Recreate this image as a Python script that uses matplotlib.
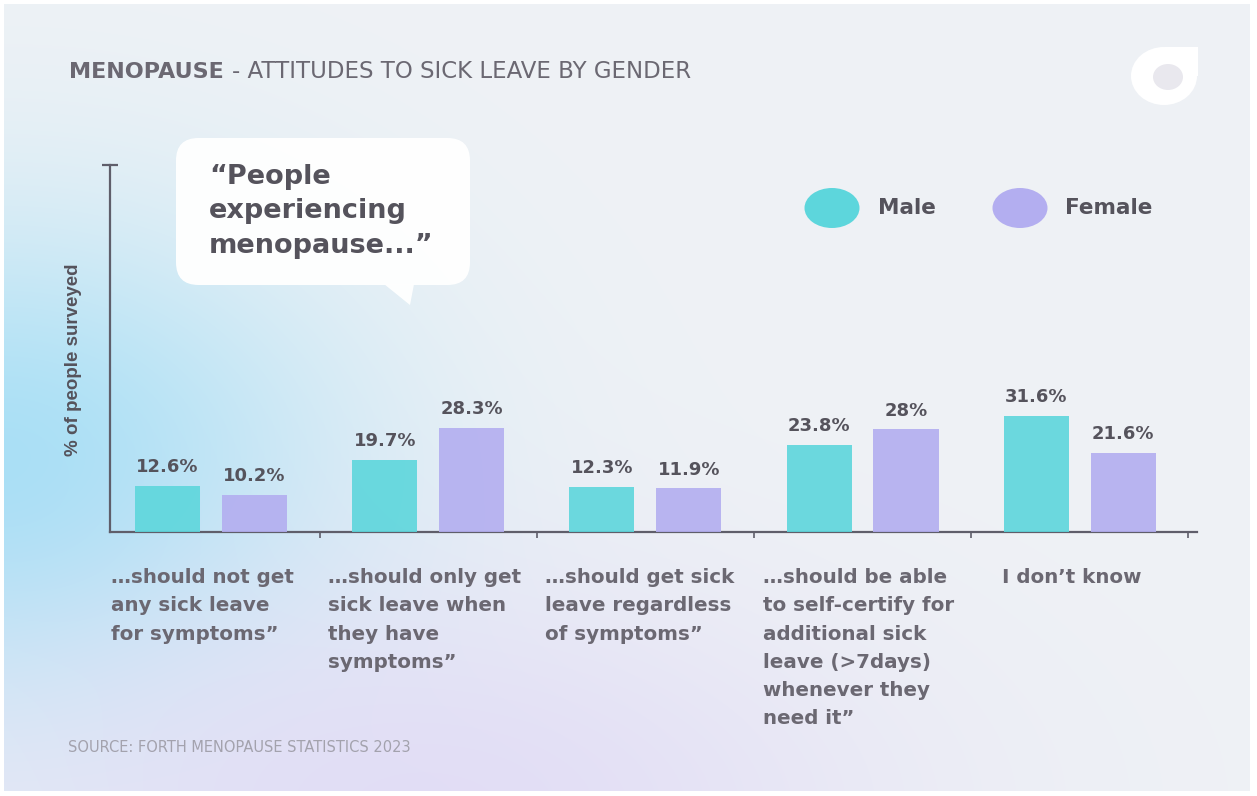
import numpy as np
import matplotlib
matplotlib.use("Agg")
import matplotlib.pyplot as plt
from matplotlib.patches import FancyBboxPatch, Polygon, Ellipse
from matplotlib import transforms

# ---- data ----
categories = [
    "\u2026should not get\nany sick leave\nfor symptoms\u201d",
    "\u2026should only get\nsick leave when\nthey have\nsymptoms\u201d",
    "\u2026should get sick\nleave regardless\nof symptoms\u201d",
    "\u2026should be able\nto self-certify for\nadditional sick\nleave (>7days)\nwhenever they\nneed it\u201d",
    "I don\u2019t know",
]
series_names = ["Male", "Female"]
male = [12.6, 19.7, 12.3, 23.8, 31.6]
female = [10.2, 28.3, 11.9, 28.0, 21.6]

title_bold = "MENOPAUSE"
title_rest = "- ATTITUDES TO SICK LEAVE BY GENDER"
quote = "\u201cPeople\nexperiencing\nmenopause...\u201d"
y_label = "% of people surveyed"
source = "SOURCE: FORTH MENOPAUSE STATISTICS 2023"

# ---- styling ----
W, H = 1257, 796
MALE_C = "#5dd6dc"
FEMALE_C = "#b3aef0"
DARK = "#55535c"
MID = "#6b6872"
AXIS_C = "#5f5e6a"


def fx(px):
    return px / W


def fy(py):
    return 1 - py / H


fig = plt.figure(figsize=(W / 100, H / 100), dpi=100)
fig.patch.set_facecolor("white")

# soft gradient backdrop
yy, xx = np.mgrid[0:H, 0:W].astype(float)
base = np.array([239, 242, 246], float) / 255
cyan = np.array([162, 222, 245], float) / 255
lav = np.array([224, 218, 246], float) / 255
w_c = 0.92 * np.exp(-((xx - 0) / 340) ** 2 - ((yy - 470) / 250) ** 2)
w_l = 0.85 * np.exp(-((xx - 430) / 460) ** 2 - ((yy - 810) / 230) ** 2)
img = base[None, None, :] * np.ones((H, W, 1))
img = img * (1 - w_c[..., None]) + cyan * w_c[..., None]
img = img * (1 - w_l[..., None]) + lav * w_l[..., None]
img[:4, :] = 1
img[-5:, :] = 1
img[:, :4] = 1
img[:, -7:] = 1
bg = fig.add_axes([0, 0, 1, 1], zorder=0)
bg.imshow(img, aspect="auto", extent=(0, W, H, 0), interpolation="bilinear")
bg.set_xlim(0, W)
bg.set_ylim(H, 0)
bg.axis("off")

# ---- main bar axes ----
ax_left, ax_right, ax_base, ax_top = 110, 1197, 532, 165
ax = fig.add_axes([fx(ax_left), fy(ax_base), (ax_right - ax_left) / W,
                   (ax_base - ax_top) / H], zorder=2)
ax.set_facecolor("none")

x = np.arange(len(categories))
bw = 0.30
off = 0.20
b_m = ax.bar(x - off, male, bw, color=MALE_C, alpha=0.9, zorder=3)
b_f = ax.bar(x + off, female, bw, color=FEMALE_C, alpha=0.9, zorder=3)
for bars, vals in ((b_m, male), (b_f, female)):
    ax.bar_label(bars, labels=[f"{v:g}%" for v in vals], padding=7,
                 fontsize=13, fontweight="bold", color=DARK,
                 family="DejaVu Sans")

ax.set_xlim(-0.465, 4.54)
ax.set_ylim(0, 100)
for s in ("top", "right"):
    ax.spines[s].set_visible(False)
for s in ("left", "bottom"):
    ax.spines[s].set_color(AXIS_C)
    ax.spines[s].set_linewidth(1.6)
ax.set_yticks([100])
ax.set_yticklabels([])
ax.tick_params(axis="y", direction="inout", length=12, width=1.6,
               color=AXIS_C)
ax.set_xticks(x + 0.5)
ax.set_xticklabels([])
ax.tick_params(axis="x", direction="out", length=4, width=1.2,
               color=AXIS_C)

ax.set_ylabel(y_label, fontsize=13.5, fontweight="bold", color=DARK,
              family="Liberation Sans")
ax.yaxis.set_label_coords(-0.026, (ax_base - 360) / (ax_base - ax_top))

# category labels under each group
trans = transforms.blended_transform_factory(ax.transData, fig.transFigure)
for i, lab in enumerate(categories):
    ax.text(i - 0.46 + (0.1 if i == 4 else 0), fy(568), lab,
            transform=trans, ha="left", va="top", fontsize=14.3,
            fontweight="bold", color=MID, linespacing=1.62,
            family="DejaVu Sans", clip_on=False)

# ---- speech bubble ----
bubble = FancyBboxPatch((fx(176), fy(285)), fx(470 - 176), (285 - 138) / H,
                        boxstyle="round,pad=0,rounding_size=0.018",
                        transform=fig.transFigure, facecolor="white",
                        edgecolor="none", alpha=0.96, zorder=3,
                        mutation_aspect=W / H)
fig.add_artist(bubble)
tail = Polygon([(fx(384), fy(284)), (fx(414), fy(284)), (fx(410), fy(305))],
               closed=True, transform=fig.transFigure, facecolor="white",
               edgecolor="none", alpha=0.96, zorder=3)
fig.add_artist(tail)
fig.text(fx(209), fy(164), quote, ha="left", va="top", fontsize=19.5,
         fontweight="bold", color=DARK, linespacing=1.42,
         family="DejaVu Sans", zorder=4)

# ---- legend ----
for cx, col, tx, name in ((832, MALE_C, 878, series_names[0]),
                          (1020, FEMALE_C, 1065, series_names[1])):
    e = Ellipse((fx(cx), fy(208)), fx(55), 40 / H, transform=fig.transFigure,
                facecolor=col, edgecolor="none", zorder=3)
    fig.add_artist(e)
    fig.text(fx(tx), fy(208), name, ha="left", va="center", fontsize=15.5,
             fontweight="bold", color=DARK, family="DejaVu Sans", zorder=4)

# ---- title ----
t1 = fig.text(fx(69), fy(72), title_bold + " ", ha="left", va="center",
              fontsize=16, fontweight="bold", color=MID,
              family="DejaVu Sans")
fig.canvas.draw()
bb = t1.get_window_extent(fig.canvas.get_renderer())
fig.text(bb.x1 / W, fy(72), title_rest, ha="left", va="center",
         fontsize=16.5, color=MID, family="DejaVu Sans")

# ---- logo mark ----
logo = Ellipse((fx(1164), fy(76)), fx(66), 58 / H, transform=fig.transFigure,
               facecolor="white", edgecolor="none", zorder=3)
fig.add_artist(logo)
corner = FancyBboxPatch((fx(1165), fy(76)), fx(33), 29 / H,
                        boxstyle="square,pad=0", transform=fig.transFigure,
                        facecolor="white", edgecolor="none", zorder=3)
fig.add_artist(corner)
inner = Ellipse((fx(1168), fy(77)), fx(30), 26 / H, transform=fig.transFigure,
                facecolor="#e9e8ee", edgecolor="none", zorder=4)
fig.add_artist(inner)

# ---- source ----
fig.text(fx(68), fy(748), source, ha="left", va="center", fontsize=10.5,
         color="#a3a2ad", family="DejaVu Sans")

fig.savefig("out.png", dpi=100, facecolor=fig.get_facecolor())
